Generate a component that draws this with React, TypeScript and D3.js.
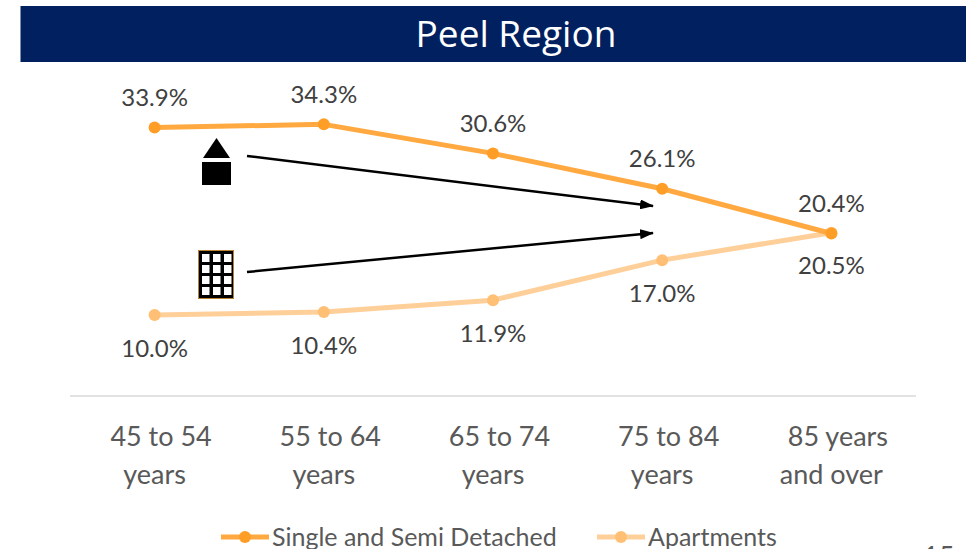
import React from "react";
import * as d3 from "d3";

const categories = ["45 to 54", "55 to 64", "65 to 74", "75 to 84", "85 years"];
const categorySecondLines = ["years", "years", "years", "years", "and over"];
const singleValues = [33.9, 34.3, 30.6, 26.1, 20.4];
const apartmentValues = [10.0, 10.4, 11.9, 17.0, 20.5];
const seriesNames = ["Single and Semi Detached", "Apartments"];

const FONT = "Lato, 'Open Sans', sans-serif";
const ORANGE = "#FFA940";
const ORANGE_DOT = "#FF9E26";
const LIGHT = "#FFCF99";
const LIGHT_DOT = "#FFBF75";

export default function App() {
  const x = d3.scaleBand<string>().domain(categories).range([70, 916]);
  const cx = (i: number) => (x(categories[i]) as number) + x.bandwidth() / 2;
  const y = d3.scaleLinear().domain([0, 40]).range([393.6, 79.6]);
  const line = d3
    .line<number>()
    .x((_, i) => cx(i))
    .y((d) => y(d));

  const series = [
    { values: apartmentValues, stroke: LIGHT, dot: LIGHT_DOT, dy: 33 },
    { values: singleValues, stroke: ORANGE, dot: ORANGE_DOT, dy: -30 },
  ];

  return (
    <svg
      width={966}
      height={549}
      style={{ position: "absolute", left: 0, top: 0, background: "#fff" }}
      fontFamily={FONT}
    >
      <defs>
        <marker id="arrow" markerWidth="14" markerHeight="10" refX="13" refY="5" orient="auto" markerUnits="userSpaceOnUse">
          <path d="M0,0L14,5L0,10Z" fill="#000" />
        </marker>
        <clipPath id="page">
          <rect width={966} height={549} />
        </clipPath>
      </defs>

      <rect x={20.5} y={6} width={945.5} height={56} fill="#00205F" />
      <text x={516} y={47} textAnchor="middle" fontSize={37} fill="#fff" fontFamily="'Open Sans', sans-serif">
        Peel Region
      </text>

      <line x1={70} x2={916} y1={396} y2={396} stroke="#D9D9D9" strokeWidth={1.5} />

      {series.map((s, si) => (
        <g key={si}>
          <path d={line(s.values) as string} fill="none" stroke={s.stroke} strokeWidth={5} strokeLinejoin="round" />
          {s.values.map((v, i) => (
            <g key={i}>
              <circle cx={cx(i)} cy={y(v)} r={6} fill={s.dot} />
              <text
                x={cx(i)}
                y={y(v) + s.dy}
                dy="0.36em"
                textAnchor="middle"
                fontSize={24}
                fill="#404040"
              >
                {v.toFixed(1)}%
              </text>
            </g>
          ))}
        </g>
      ))}

      <line x1={247} y1={156} x2={653} y2={206} stroke="#000" strokeWidth={2.5} markerEnd="url(#arrow)" />
      <line x1={247} y1={272} x2={653} y2={233} stroke="#000" strokeWidth={2.5} markerEnd="url(#arrow)" />

      <path d="M216.500,138L230,158L203,158Z" fill="#000" />
      <rect x={202} y={162} width={29} height={23} fill="#000" />

      <g>
        <rect x={198.500} y={250.500} width={35} height={48} fill="#000" stroke="#B8822F" strokeWidth={1} />
        {d3.range(4).flatMap((r) =>
          d3.range(3).map((c) => (
            <rect key={`${r}-${c}`} x={202 + c * 11} y={254 + r * 11} width={7.500} height={8} fill="#fff" />
          ))
        )}
      </g>

      {categories.map((c, i) => (
        <g key={c} fontSize={27} fill="#595959" textAnchor="middle">
          <text x={cx(i) + 6.500} y={446}>{c}</text>
          <text x={cx(i)} y={484}>{categorySecondLines[i]}</text>
        </g>
      ))}

      <g>
        <line x1={221} x2={269} y1={537} y2={537} stroke={ORANGE} strokeWidth={5} />
        <circle cx={245} cy={537} r={6} fill={ORANGE_DOT} />
        <text x={272} y={546} fontSize={25} fill="#595959">{seriesNames[0]}</text>
        <line x1={597} x2={645} y1={537} y2={537} stroke={LIGHT} strokeWidth={5} />
        <circle cx={621} cy={537} r={6} fill={LIGHT_DOT} />
        <text x={648} y={546} fontSize={25} fill="#595959">{seriesNames[1]}</text>
      </g>

      <text x={923} y={566} fontSize={27} fill="#595959">15</text>
    </svg>
  );
}
